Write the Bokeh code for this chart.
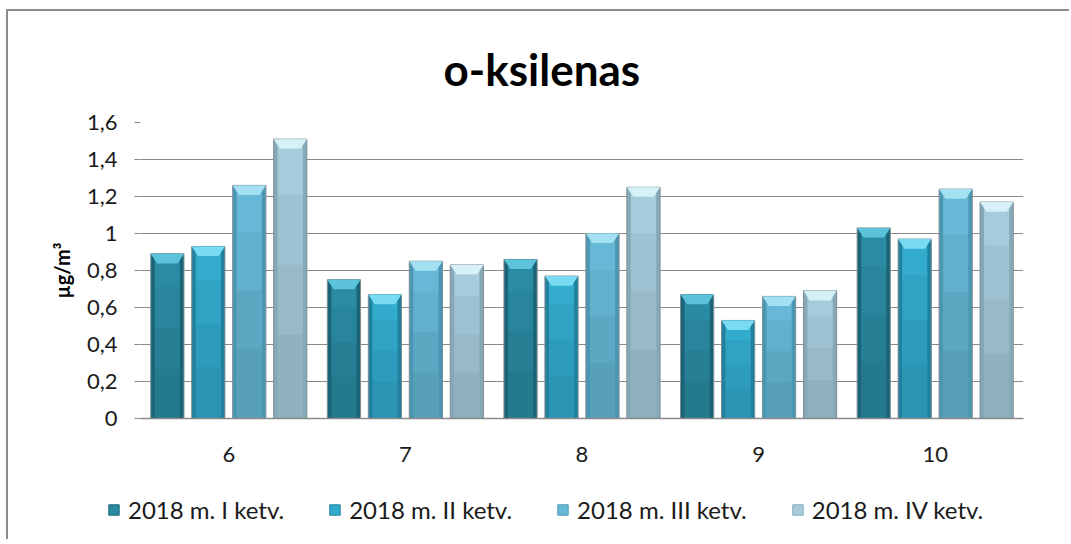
import numpy as np
from bokeh.plotting import figure
from bokeh.layouts import column
from bokeh.models import (Range1d, FixedTicker, CustomJSTickFormatter, Legend,
                          LegendItem, ColumnDataSource)
from bokeh.embed import file_html
from bokeh.resources import INLINE

# ---------------- data ----------------
chart_title = "o-ksilenas"
y_label = "µg/m³"
categories = ["6", "7", "8", "9", "10"]
series_names = ["2018 m. I ketv.", "2018 m. II ketv.", "2018 m. III ketv.", "2018 m. IV ketv."]
q1 = [0.89, 0.75, 0.86, 0.67, 1.03]
q2 = [0.93, 0.67, 0.77, 0.53, 0.97]
q3 = [1.26, 0.85, 1.00, 0.66, 1.24]
q4 = [1.51, 0.83, 1.25, 0.69, 1.17]
y_ticks = [0, 0.2, 0.4, 0.6, 0.8, 1.0, 1.2, 1.4, 1.6]

series_values = [q1, q2, q3, q4]

# ---------------- styles ----------------
main_colors = ["#2a8ba3", "#33abcd", "#66b8d6", "#a6cbdb"]
edge_colors = ["#1b6478", "#20809e", "#4a97b4", "#86a9b8"]
cap_colors = ["#5cc3da", "#78dbf2", "#a2e0f2", "#d6f0f8"]

FONT = "Lato"
pitch = 0.232
bar_w = 0.188
cap_h = 0.052
cap_d = 0.036

p = figure(width=1061, height=464, output_backend="svg", toolbar_location=None,
           x_range=Range1d(-0.5, 4.5), y_range=Range1d(0, 1.6),
           min_border_left=132, min_border_right=46, min_border_top=111,
           min_border_bottom=57)
p.outline_line_color = None
p.background_fill_color = "white"
p.border_fill_color = "white"

# title
p.title.text = chart_title
p.title.align = "left"
p.title.offset = 303
p.title.text_font = FONT
p.title.text_font_style = "bold"
p.title.text_font_size = "44px"
p.title.text_color = "#000000"
p.title.standoff = 56

# grid
p.xgrid.grid_line_color = None
p.ygrid.grid_line_color = "#8a8a8a"
p.ygrid.grid_line_width = 1

# y axis
p.yaxis.ticker = FixedTicker(ticks=y_ticks)
p.yaxis.formatter = CustomJSTickFormatter(
    code="return String(Math.round(tick*10)/10).replace('.', ',');")
p.yaxis.axis_line_color = None
p.yaxis.major_tick_line_color = "#8a8a8a"
p.yaxis.major_tick_out = 6
p.yaxis.major_tick_in = 0
p.yaxis.minor_tick_line_color = None
p.yaxis.major_label_standoff = 17
p.yaxis.major_label_text_font = FONT
p.yaxis.major_label_text_font_size = "22px"
p.yaxis.major_label_text_color = "#1a1a1a"
p.yaxis.axis_label = y_label
p.yaxis.axis_label_text_font = FONT
p.yaxis.axis_label_text_font_style = "bold"
p.yaxis.axis_label_text_font_size = "20px"
p.yaxis.axis_label_standoff = 10
p.yaxis.axis_label_text_color = "#000000"

# x axis
p.xaxis.ticker = FixedTicker(ticks=list(range(len(categories))))
p.xaxis.major_label_overrides = {i: c for i, c in enumerate(categories)}
p.xaxis.axis_line_color = "#8a8a8a"
p.xaxis.axis_line_width = 1.5
p.xaxis.major_tick_line_color = None
p.xaxis.minor_tick_line_color = None
p.xaxis.major_label_standoff = 22
p.xaxis.major_label_text_font = FONT
p.xaxis.major_label_text_font_size = "22px"
p.xaxis.major_label_text_color = "#1a1a1a"

idx = np.arange(len(categories))
for i, vals in enumerate(series_values):
    vals = np.array(vals, dtype=float)
    xs = idx + (i - 1.5) * pitch
    src = ColumnDataSource(dict(x=xs, top=vals))
    # outer bar (dark edge)
    p.vbar(x="x", top="top", bottom=0, width=bar_w, source=src,
           fill_color=edge_colors[i], line_color="#7d8d93", line_width=1)
    # inner main face
    p.vbar(x="x", top="top", bottom=0, width=bar_w * 0.76, source=src,
           fill_color=main_colors[i], line_color=None)
    # vertical shading (darker toward bottom)
    for f in (0.8, 0.55, 0.3):
        p.vbar(x=xs, top=vals * f, bottom=0, width=bar_w * 0.76,
               fill_color="black", fill_alpha=0.045, line_color=None)
    # top bevel cap
    cx = [[x - bar_w / 2, x + bar_w / 2, x + bar_w / 2 - cap_d, x - bar_w / 2 + cap_d]
          for x in xs]
    cy = [[v, v, v - cap_h, v - cap_h] for v in vals]
    p.patches(cx, cy, fill_color=cap_colors[i], line_color=None)

# ---------------- legend strip ----------------
q = figure(width=1061, height=64, output_backend="svg", toolbar_location=None,
           x_range=Range1d(0, 1), y_range=Range1d(0, 1),
           min_border_left=0, min_border_right=0, min_border_top=0, min_border_bottom=0)
q.frame_align = False
q.axis.visible = False
q.grid.visible = False
q.outline_line_color = None
q.border_fill_color = "white"

legend_items = []
for i, name in enumerate(series_names):
    # legend swatch renderer (placed outside the visible range of the strip)
    r = q.vbar(x=[-5], top=[0], width=0.1, fill_color=main_colors[i],
               line_color=edge_colors[i], line_width=1)
    legend_items.append(LegendItem(label=name, renderers=[r]))

legend = Legend(items=legend_items, location=(99, 15), orientation="horizontal",
                glyph_width=13, glyph_height=13, label_standoff=8, spacing=44,
                padding=0, margin=0, border_line_color=None,
                background_fill_alpha=0, label_text_font=FONT,
                label_text_font_size="24px", label_text_color="#1a1a1a")
q.add_layout(legend)

layout = column(p, q, spacing=0)
layout.styles = {"margin-left": "6px", "margin-top": "9px",
                 "border-left": "2px solid #8c8c8c", "border-top": "2px solid #8c8c8c"}

open("out.html", "w").write(file_html(layout, INLINE))
